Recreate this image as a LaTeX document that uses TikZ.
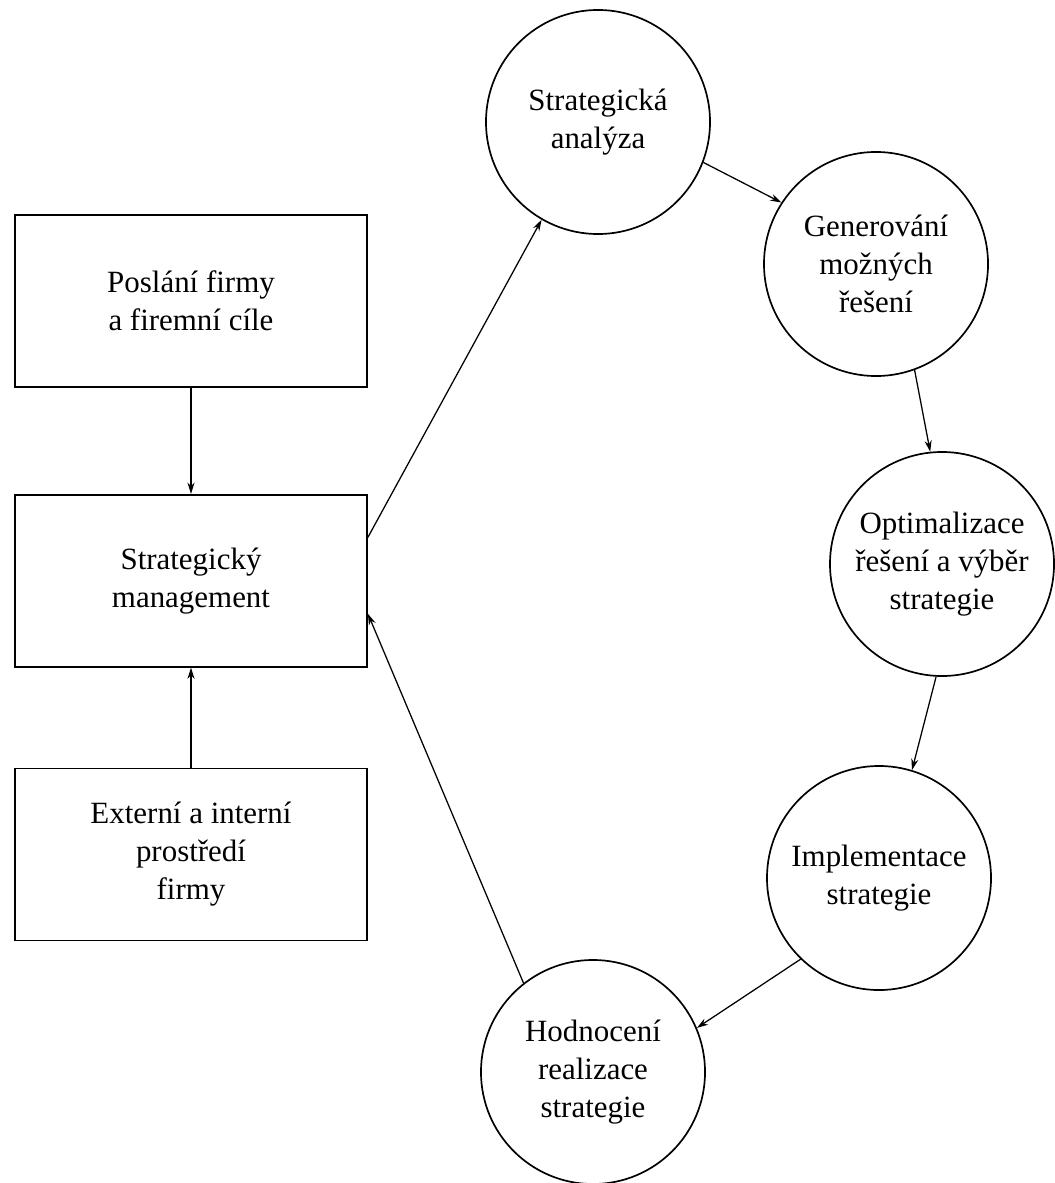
\documentclass[tikz,border=0pt]{standalone}
\usepackage{fontspec}
\setmainfont{Liberation Serif}
\usetikzlibrary{arrows.meta, positioning, calc}

\begin{document}
\begin{tikzpicture}[x=0.025cm, y=-0.025cm,
        box/.style={draw, line width=1.2pt, minimum width=8.8cm, minimum height=4.3cm,
            align=center, font=\fontsize{22}{27}\selectfont},
        phase/.style={draw, circle, line width=1.2pt, minimum size=5.6cm, inner sep=0pt,
            align=center, font=\fontsize{22}{27}\selectfont}]
        \useasboundingbox (0,0) rectangle (1054,1183);
        % left column
        \node (mise) [box] at (191,301) {Poslání firmy\\a firemní cíle};
        \node (mgmt) [box, below = 2.65cm of mise] {Strategický\\management};
        \node (env) [box, below = 2.5cm of mgmt] {Externí a interní\\prostředí\\firmy};
        % cycle
        \node (sa) [phase] at (598,122) {Strategická\\analýza};
        \node (gen) [phase] at (876,264) {Generování\\možných\\řešení};
        \node (opt) [phase] at (942,564) {Optimalizace\\řešení a výběr\\strategie};
        \node (imp) [phase] at (879,878) {Implementace\\strategie};
        \node (eval) [phase] at (593,1072) {Hodnocení\\realizace\\strategie};
        \path [-{Stealth[length=8pt, width=5pt]}, line width=0.9pt]
            (mise) edge (mgmt)
            (env) edge (mgmt)
            ($(mgmt.north east)!0.25!(mgmt.south east)$) edge (sa.240)
            (sa.-21) edge (gen.147)
            (gen.290) edge (opt.96)
            (opt.267) edge (imp.73)
            (imp.226) edge (eval.23)
            (eval.128) edge ($(mgmt.north east)!0.69!(mgmt.south east)$)
            ;
\end{tikzpicture}
\end{document}
